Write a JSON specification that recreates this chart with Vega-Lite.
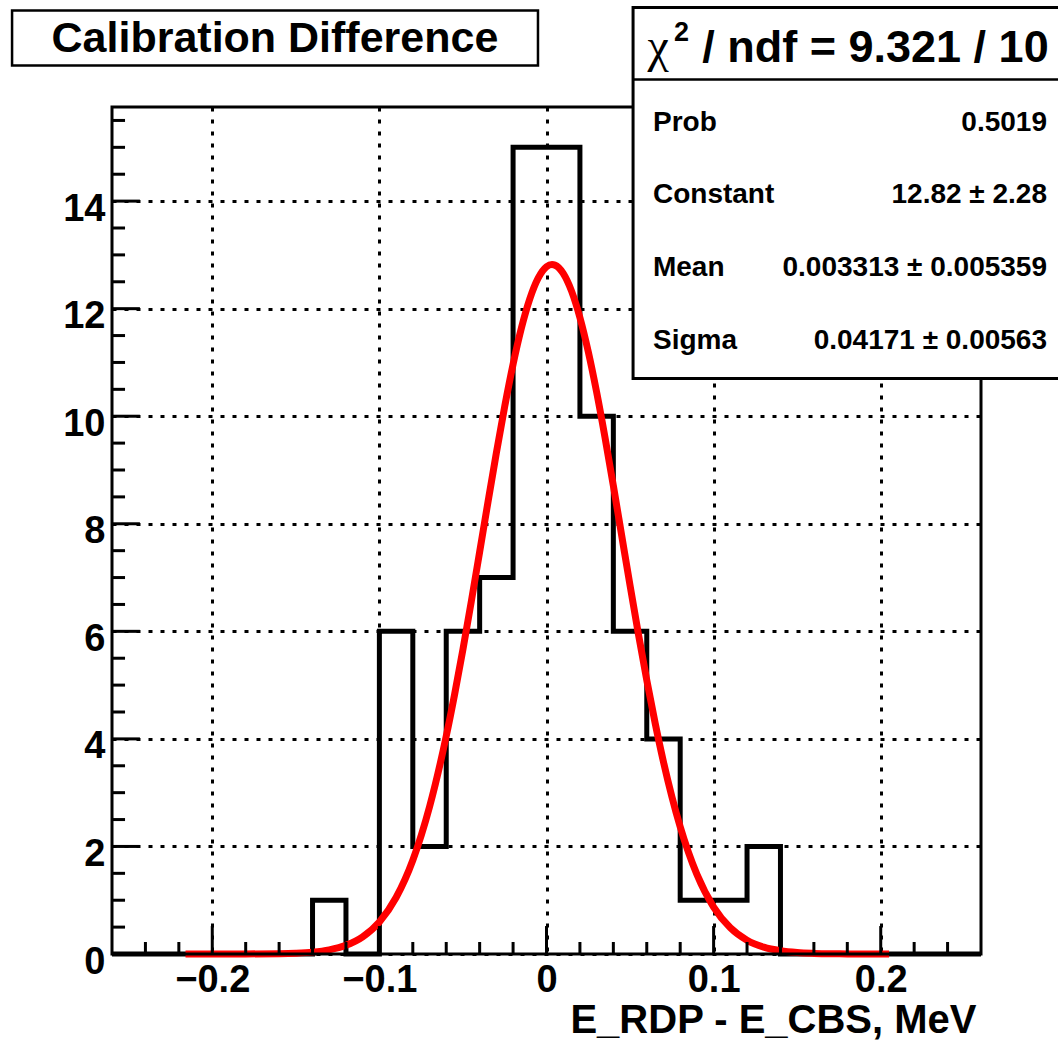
{
  "$schema": "https://vega.github.io/schema/vega-lite/v6.json",
  "width": 869,
  "height": 847,
  "autosize": {"type": "none"},
  "padding": {"left": 112, "top": 107, "right": 77, "bottom": 89},
  "background": "white",
  "config": {"view": {"stroke": null}, "font": "Liberation Sans"},
  "datasets": {
    "hist": [
      {"x": -0.26, "y": 0}, {"x": -0.14, "y": 1}, {"x": -0.12, "y": 0}, {"x": -0.10, "y": 6},
      {"x": -0.08, "y": 2}, {"x": -0.06, "y": 6}, {"x": -0.04, "y": 7}, {"x": -0.02, "y": 15},
      {"x": 0.00, "y": 15}, {"x": 0.02, "y": 10}, {"x": 0.04, "y": 6}, {"x": 0.06, "y": 4},
      {"x": 0.08, "y": 1}, {"x": 0.10, "y": 1}, {"x": 0.12, "y": 2}, {"x": 0.14, "y": 0},
      {"x": 0.26, "y": 0}
    ],
    "fit": [
      {"x": -0.216, "y": 0}, {"x": -0.2, "y": 0}, {"x": -0.18, "y": 0.001}, {"x": -0.16, "y": 0.006},
      {"x": -0.15, "y": 0.015}, {"x": -0.14, "y": 0.035}, {"x": -0.13, "y": 0.078}, {"x": -0.12, "y": 0.162},
      {"x": -0.11, "y": 0.320}, {"x": -0.10, "y": 0.596}, {"x": -0.09, "y": 1.050}, {"x": -0.08, "y": 1.744},
      {"x": -0.07, "y": 2.736}, {"x": -0.06, "y": 4.051}, {"x": -0.055, "y": 4.825}, {"x": -0.05, "y": 5.664},
      {"x": -0.045, "y": 6.555}, {"x": -0.04, "y": 7.477}, {"x": -0.035, "y": 8.408}, {"x": -0.03, "y": 9.319},
      {"x": -0.025, "y": 10.182}, {"x": -0.02, "y": 10.966}, {"x": -0.015, "y": 11.642}, {"x": -0.01, "y": 12.183},
      {"x": -0.005, "y": 12.568}, {"x": 0.0, "y": 12.780}, {"x": 0.0033, "y": 12.820}, {"x": 0.005, "y": 12.810},
      {"x": 0.01, "y": 12.656}, {"x": 0.015, "y": 12.326}, {"x": 0.02, "y": 11.834}, {"x": 0.025, "y": 11.199},
      {"x": 0.03, "y": 10.447}, {"x": 0.035, "y": 9.607}, {"x": 0.04, "y": 8.708}, {"x": 0.045, "y": 7.780},
      {"x": 0.05, "y": 6.852}, {"x": 0.055, "y": 5.949}, {"x": 0.06, "y": 5.091}, {"x": 0.065, "y": 4.295},
      {"x": 0.07, "y": 3.571}, {"x": 0.08, "y": 2.365}, {"x": 0.09, "y": 1.479}, {"x": 0.10, "y": 0.873},
      {"x": 0.11, "y": 0.487}, {"x": 0.12, "y": 0.256}, {"x": 0.13, "y": 0.127}, {"x": 0.14, "y": 0.060},
      {"x": 0.15, "y": 0.026}, {"x": 0.16, "y": 0.011}, {"x": 0.17, "y": 0.004}, {"x": 0.18, "y": 0.002},
      {"x": 0.205, "y": 0}
    ],
    "xminor": [
      {"x": -0.24}, {"x": -0.22}, {"x": -0.18}, {"x": -0.16}, {"x": -0.14}, {"x": -0.12},
      {"x": -0.08}, {"x": -0.06}, {"x": -0.04}, {"x": -0.02}, {"x": 0.02}, {"x": 0.04},
      {"x": 0.06}, {"x": 0.08}, {"x": 0.12}, {"x": 0.14}, {"x": 0.16}, {"x": 0.18},
      {"x": 0.22}, {"x": 0.24}
    ],
    "xmajor": [{"x": -0.2}, {"x": -0.1}, {"x": 0}, {"x": 0.1}, {"x": 0.2}],
    "yminor": [
      {"y": 0.5}, {"y": 1}, {"y": 1.5}, {"y": 2.5}, {"y": 3}, {"y": 3.5}, {"y": 4.5}, {"y": 5},
      {"y": 5.5}, {"y": 6.5}, {"y": 7}, {"y": 7.5}, {"y": 8.5}, {"y": 9}, {"y": 9.5}, {"y": 10.5},
      {"y": 11}, {"y": 11.5}, {"y": 12.5}, {"y": 13}, {"y": 13.5}, {"y": 14.5}, {"y": 15}, {"y": 15.5}
    ],
    "ymajor": [{"y": 0}, {"y": 2}, {"y": 4}, {"y": 6}, {"y": 8}, {"y": 10}, {"y": 12}, {"y": 14}]
  },
  "layer": [
    {
      "data": {"name": "hist"},
      "mark": {"type": "line", "interpolate": "step-after", "stroke": "black", "strokeWidth": 5, "strokeJoin": "miter"},
      "encoding": {
        "x": {
          "field": "x", "type": "quantitative",
          "scale": {"domain": [-0.26, 0.26], "nice": false, "zero": false},
          "axis": {
            "values": [-0.2, -0.1, 0, 0.1, 0.2],
            "grid": true, "gridColor": "black", "gridWidth": 3, "gridDash": [4, 8], "gridOpacity": 1,
            "ticks": false, "tickSize": 0, "domain": false,
            "labelFont": "Liberation Sans", "labelFontWeight": "bold", "labelFontSize": 38, "labelColor": "black",
            "labelBaseline": "alphabetic", "labelPadding": 37, "labelFlush": false, "labelOverlap": false,
            "labelExpr": "datum.value == 0 ? '0' : format(datum.value, '.1f')",
            "title": "E_RDP - E_CBS, MeV",
            "titleFont": "Liberation Sans", "titleFontWeight": "bold", "titleFontSize": 40, "titleColor": "black",
            "titleAnchor": "end", "titleAlign": "right", "titleBaseline": "alphabetic", "titleX": 864, "titleY": 78
          }
        },
        "y": {
          "field": "y", "type": "quantitative",
          "scale": {"domain": [0, 15.75], "nice": false, "zero": false},
          "axis": {
            "values": [0, 2, 4, 6, 8, 10, 12, 14],
            "grid": true, "gridColor": "black", "gridWidth": 3, "gridDash": [4, 8], "gridOpacity": 1,
            "ticks": false, "tickSize": 0, "domain": false,
            "labelFont": "Liberation Sans", "labelFontWeight": "bold", "labelFontSize": 38, "labelColor": "black",
            "labelBaseline": "alphabetic", "labelOffset": 19, "labelPadding": 7, "labelFlush": false, "labelOverlap": false,
            "title": null
          }
        }
      }
    },
    {
      "data": {"name": "fit"},
      "mark": {"type": "line", "interpolate": "monotone", "stroke": "#ff0000", "strokeWidth": 7},
      "encoding": {
        "x": {"field": "x", "type": "quantitative"},
        "y": {"field": "y", "type": "quantitative"}
      }
    },
    {
      "data": {"name": "xminor"},
      "mark": {"type": "rule", "stroke": "black", "strokeWidth": 3},
      "encoding": {"x": {"field": "x", "type": "quantitative"}, "y": {"datum": 0}, "y2": {"datum": 0.223}}
    },
    {
      "data": {"name": "xmajor"},
      "mark": {"type": "rule", "stroke": "black", "strokeWidth": 3},
      "encoding": {"x": {"field": "x", "type": "quantitative"}, "y": {"datum": 0}, "y2": {"datum": 0.52}}
    },
    {
      "data": {"name": "yminor"},
      "mark": {"type": "rule", "stroke": "black", "strokeWidth": 3},
      "encoding": {"y": {"field": "y", "type": "quantitative"}, "x": {"datum": -0.26}, "x2": {"datum": -0.2522}}
    },
    {
      "data": {"name": "ymajor"},
      "mark": {"type": "rule", "stroke": "black", "strokeWidth": 3},
      "encoding": {"y": {"field": "y", "type": "quantitative"}, "x": {"datum": -0.26}, "x2": {"datum": -0.2433}}
    },
    {
      "data": {"values": [{}]},
      "mark": {"type": "rect", "fill": "transparent", "stroke": "black", "strokeWidth": 3},
      "encoding": {"x": {"datum": -0.26}, "x2": {"datum": 0.26}, "y": {"datum": 0}, "y2": {"datum": 15.75}}
    },
    {
      "data": {"values": [{}]},
      "mark": {"type": "rect", "fill": "white", "stroke": "black", "strokeWidth": 2.5},
      "encoding": {"x": {"datum": -0.3198}, "x2": {"datum": -0.0051}, "y": {"datum": 17.544}, "y2": {"datum": 16.521}}
    },
    {
      "data": {"values": [{}]},
      "mark": {"type": "text", "text": "Calibration Difference", "font": "Liberation Sans", "fontWeight": "bold", "fontSize": 43, "align": "center", "baseline": "middle", "color": "black"},
      "encoding": {"x": {"datum": -0.1625}, "y": {"datum": 17.023}}
    },
    {
      "data": {"values": [{}]},
      "mark": {"type": "rect", "fill": "white", "stroke": "black", "strokeWidth": 3},
      "encoding": {"x": {"datum": 0.0518}, "x2": {"datum": 0.3162}, "y": {"datum": 17.6}, "y2": {"datum": 10.701}}
    },
    {
      "data": {"values": [{}]},
      "mark": {"type": "rule", "stroke": "black", "strokeWidth": 2.5},
      "encoding": {"x": {"datum": 0.0518}, "x2": {"datum": 0.3162}, "y": {"datum": 16.261}}
    },
    {
      "data": {"values": [{}]},
      "mark": {"type": "text", "text": "χ", "font": "Liberation Serif", "fontWeight": "normal", "fontSize": 48, "align": "left", "baseline": "alphabetic", "color": "black"},
      "encoding": {"x": {"datum": 0.0604}, "y": {"datum": 16.59}}
    },
    {
      "data": {"values": [{}]},
      "mark": {"type": "text", "text": "2", "font": "Liberation Sans", "fontWeight": "bold", "fontSize": 27, "align": "left", "baseline": "alphabetic", "color": "black"},
      "encoding": {"x": {"datum": 0.0763}, "y": {"datum": 16.98}}
    },
    {
      "data": {"values": [{}]},
      "mark": {"type": "text", "text": "/ ndf = 9.321 / 10", "font": "Liberation Sans", "fontWeight": "bold", "fontSize": 45, "align": "left", "baseline": "alphabetic", "color": "black"},
      "encoding": {"x": {"datum": 0.0932}, "y": {"datum": 16.59}}
    },
    {
      "data": {"values": [{}]},
      "mark": {"type": "text", "text": ["Prob", "Constant", "Mean", "Sigma"], "lineHeight": 72.7, "font": "Liberation Sans", "fontWeight": "bold", "fontSize": 28, "align": "left", "baseline": "middle", "color": "black"},
      "encoding": {"x": {"datum": 0.0637}, "y": {"datum": 15.461}}
    },
    {
      "data": {"values": [{}]},
      "mark": {"type": "text", "text": ["0.5019", "12.82 ± 2.28", "0.003313 ± 0.005359", "0.04171 ± 0.00563"], "lineHeight": 72.7, "font": "Liberation Sans", "fontWeight": "bold", "fontSize": 28, "align": "right", "baseline": "middle", "color": "black"},
      "encoding": {"x": {"datum": 0.2995}, "y": {"datum": 15.461}}
    }
  ]
}
